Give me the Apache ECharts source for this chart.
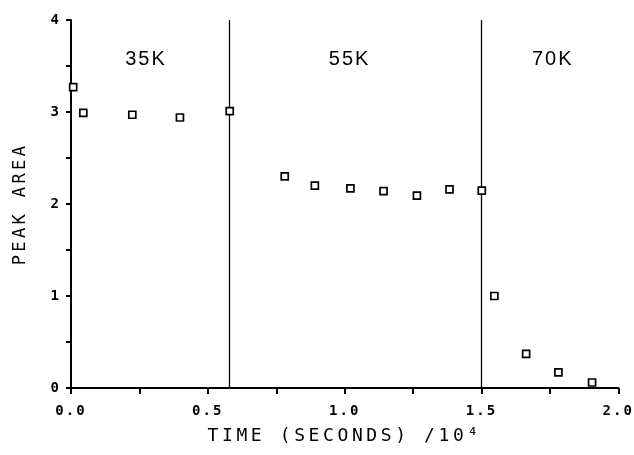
<!DOCTYPE html>
<html><head><meta charset="utf-8">
<script src="https://cdn.jsdelivr.net/npm/echarts@6/dist/echarts.min.js"></script>
<style>
html,body{margin:0;padding:0;background:#fff;}
#c{width:634px;height:455px;}
</style></head>
<body><div id="c"></div>
<script>
// Data
const timeX = [0.008, 0.045, 0.224, 0.398, 0.580, 0.781, 0.891, 1.021, 1.142, 1.264, 1.383, 1.501, 1.547, 1.663, 1.781, 1.904];
const peakArea = [3.27, 2.99, 2.97, 2.94, 3.01, 2.30, 2.20, 2.17, 2.14, 2.09, 2.16, 2.145, 1.00, 0.37, 0.17, 0.06];
const dividers = [0.58, 1.505];
const regionNames = ['35K', '55K', '70K'];
const regionX = [0.274, 1.018, 1.76];
const regionY = [3.57, 3.57, 3.57];
const xTickLabels = ['0.0', '0.5', '1.0', '1.5', '2.0'];
const yTickLabels = ['0', '1', '2', '3', '4'];

// Wider letter spacing, like the plotter lettering of the original
(function () {
  const proto = CanvasRenderingContext2D.prototype;
  const orig = proto.fillText;
  proto.fillText = function (t, x, y, m) {
    const f = this.font || '';
    const mm = f.match(/(\d+(?:\.\d+)?)px/);
    const size = mm ? parseFloat(mm[1]) : 12;
    let sp = 0;
    if (/Mono/i.test(f)) sp = size >= 17 ? size * 0.2 : size * 0.15;
    else if (/Liberation/i.test(f)) sp = size * 0.1;
    if ('letterSpacing' in this) this.letterSpacing = sp + 'px';
    const r = m === undefined ? orig.call(this, t, x, y) : orig.call(this, t, x, y, m);
    if ('letterSpacing' in this) this.letterSpacing = '0px';
    return r;
  };
})();

const chart = echarts.init(document.getElementById('c'), null, {renderer: 'canvas'});
const mono = 'DejaVu Sans Mono';
const tickStyle = {color: '#000', width: 2, opacity: 1};
chart.setOption({
  animation: false,
  backgroundColor: '#fff',
  grid: {left: 71, right: 15, top: 20, bottom: 67},
  xAxis: {
    type: 'value', min: 0, max: 2, interval: 0.5,
    name: 'TIME (SECONDS) /10\u2074', nameLocation: 'middle', nameGap: 39,
    nameTextStyle: {fontFamily: mono, fontSize: 18, color: '#000'},
    axisLine: {show: true, onZero: false, lineStyle: {color: '#000', width: 2, opacity: 1}},
    axisTick: {show: true, inside: false, length: 6, lineStyle: tickStyle},
    minorTick: {show: true, splitNumber: 2, length: 6, lineStyle: tickStyle},
    splitLine: {show: false},
    axisLabel: {margin: 16, fontFamily: mono, fontWeight: 'bold', fontSize: 14, color: '#000',
      formatter: (v) => xTickLabels[Math.round(v / 0.5)]}
  },
  yAxis: {
    type: 'value', min: 0, max: 4, interval: 1,
    name: 'PEAK AREA', nameLocation: 'middle', nameGap: 42, nameRotate: 90,
    nameTextStyle: {fontFamily: mono, fontSize: 17, color: '#000'},
    axisLine: {show: true, onZero: false, lineStyle: {color: '#000', width: 2, opacity: 1}},
    axisTick: {show: true, inside: false, length: 5, lineStyle: tickStyle},
    minorTick: {show: true, splitNumber: 2, length: 5, lineStyle: tickStyle},
    splitLine: {show: false},
    axisLabel: {margin: 10, fontFamily: mono, fontWeight: 'bold', fontSize: 14, color: '#000',
      formatter: (v) => yTickLabels[Math.round(v)]}
  },
  series: [
    {
      type: 'scatter',
      data: timeX.map((x, i) => [x, peakArea[i]]),
      symbol: 'rect', symbolSize: 7,
      itemStyle: {color: '#fff', borderColor: '#000', borderWidth: 1.7, opacity: 1},
      z: 5,
      markLine: {
        silent: true, symbol: ['none', 'none'], label: {show: false},
        lineStyle: {color: '#000', width: 1.3, type: 'solid', opacity: 1},
        data: dividers.map(d => ({xAxis: d}))
      }
    },
    {
      type: 'scatter',
      data: regionNames.map((n, i) => ({name: n, value: [regionX[i], regionY[i]]})),
      symbolSize: 0,
      silent: true,
      itemStyle: {opacity: 1},
      label: {show: true, position: 'inside', formatter: (p) => p.name,
        fontFamily: 'Liberation Sans', fontSize: 20, color: '#000', opacity: 1}
    }
  ]
});
</script></body></html>
